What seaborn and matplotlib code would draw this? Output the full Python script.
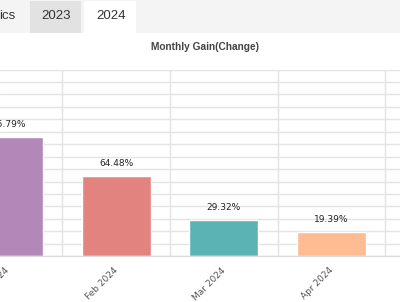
import matplotlib
matplotlib.use("Agg")
import matplotlib.pyplot as plt
from matplotlib.patches import Rectangle
import seaborn as sns
import pandas as pd

months = ["Jan 2024", "Feb 2024", "Mar 2024", "Apr 2024"]
gains = [95.79, 64.48, 29.32, 19.39]
bar_colors = ["#b387b8", "#e3837f", "#5bb4b3", "#ffbb92"]
tabs = ["ics", "2023", "2024"]
title = "Monthly Gain(Change)"

sns.set_theme(style="white")
plt.rcParams["font.family"] = ["Liberation Sans", "DejaVu Sans"]

W, H = 400, 302
fig = plt.figure(figsize=(W / 100, H / 100), dpi=100)
fig.patch.set_facecolor("white")

def px(x, y):
    return x / W, 1 - y / H

# tab strip
fig.patches.append(Rectangle(px(0, 32.5), 1, 32.5 / H, transform=fig.transFigure,
                             facecolor="#f4f4f4", edgecolor="none", zorder=0))
fig.patches.append(Rectangle(px(30, 32.5), 51 / W, 31.5 / H, transform=fig.transFigure,
                             facecolor="#e2e2e2", edgecolor="none", zorder=1))
fig.patches.append(Rectangle(px(84, 32.5), 52 / W, 31.5 / H, transform=fig.transFigure,
                             facecolor="white", edgecolor="none", zorder=1))
for label, cx in zip(tabs, [7, 56, 111]):
    fig.text(*px(cx, 16), label, ha="center", va="center", fontsize=9.5,
             color="#333333", zorder=3)

fig.text(*px(205, 47), title, ha="center", va="center", fontsize=7.3,
         fontweight="bold", color="#444444")

# plot area
top, bottom = 69.5, 256.3
ax = fig.add_axes([0, (H - bottom) / H, 1, (bottom - top) / H])
df = pd.DataFrame({"month": months, "gain": gains})
sns.barplot(data=df, x="month", y="gain", hue="month", order=months,
            palette=bar_colors, width=0.64, ax=ax, legend=False, saturation=1,
            zorder=2)

ax.set_yticks(range(0, 151, 10))
ax.set_yticklabels([])
ax.set_ylim(0, 150)
ax.tick_params(axis="y", length=0)
ax.yaxis.grid(True, color="#e3e3e3", linewidth=1)

spacing = 107.7
x0 = 8.5
ax.set_xticks([i + 0.5 for i in range(0, 4)], minor=True)
ax.xaxis.grid(True, which="minor", color="#e3e3e3", linewidth=1)
ax.tick_params(axis="x", which="minor", length=11, color="#e6e6e6", width=1,
               direction="out")
ax.set_xticks(range(len(months)))
ax.set_xticklabels(months, rotation=45, ha="right", va="center",
                   rotation_mode="anchor", fontsize=6.5, color="#555555",
                   family=["DejaVu Sans"])
ax.tick_params(axis="x", which="major", length=0, pad=9)
ax.set_xlim(-x0 / spacing, (W - x0) / spacing)
ax.set_axisbelow(True)
ax.set_xlabel("")
ax.set_ylabel("")
for s in ["left", "right", "top"]:
    ax.spines[s].set_visible(False)
ax.spines["bottom"].set_color("#dddddd")
ax.spines["bottom"].set_linewidth(1)

for i, v in enumerate(gains):
    ax.annotate(f"{v:.2f}%", (i, v), xytext=(0, 9), textcoords="offset points",
                ha="center", va="center", fontsize=6.5, color="#222222",
                family=["DejaVu Sans"])

fig.savefig("out.png", dpi=100)
